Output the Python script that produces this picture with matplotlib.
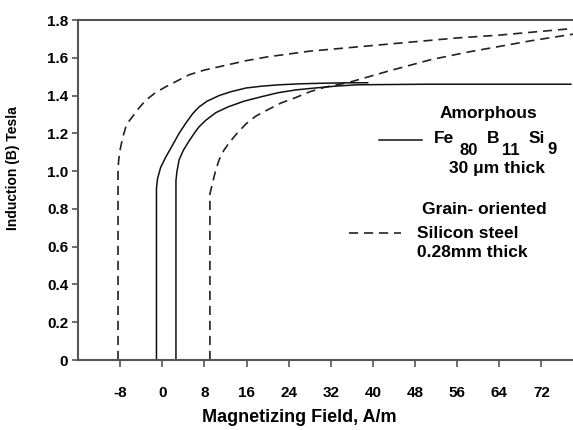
import matplotlib
matplotlib.use("Agg")
import matplotlib.pyplot as plt

plt.rcParams['font.family'] = ['Liberation Sans', 'DejaVu Sans']
plt.rcParams['font.weight'] = 'bold'

# grain-oriented silicon steel (dashed loop)
si_up_H = [-8.4, -8.4, -8.3, -8.1, -7.8, -7.5, -6.9, -6.3, -5.6, -4.4, -3.1, -1.3, 0.7, 3.0, 5.1, 8.0,
           12.0, 16.0, 20.0, 24.0, 28.0, 32.0, 40.0, 48.0, 56.0, 64.0, 72.0, 78.0]
si_up_B = [0.0, 1.0, 1.05, 1.1, 1.14, 1.18, 1.235, 1.265, 1.29, 1.335, 1.376, 1.415, 1.447, 1.48, 1.51, 1.535,
           1.56, 1.585, 1.605, 1.62, 1.635, 1.645, 1.665, 1.685, 1.705, 1.72, 1.74, 1.755]
si_dn_H = [9.05, 9.05, 9.5, 10.1, 10.8, 11.7, 12.7, 14.2, 15.9, 17.7, 19.7, 22.5, 25.4, 28.0, 31.0, 35.5,
           43.0, 51.0, 58.0, 64.0, 70.0, 78.0]
si_dn_B = [0.0, 0.88, 0.93, 1.0, 1.06, 1.11, 1.15, 1.2, 1.25, 1.29, 1.32, 1.36, 1.39, 1.42, 1.445, 1.47,
           1.53, 1.59, 1.63, 1.66, 1.69, 1.725]

# amorphous Fe80 B11 Si9 (solid loop)
am_up_H = [-1.1, -1.1, -0.9, -0.3, 0.7, 2.0, 3.2, 4.5, 5.8, 7.0, 8.5, 10.8, 13.0, 15.9, 19.0, 22.2,
           26.0, 30.0, 34.0, 39.0]
am_up_B = [0.0, 0.91, 0.96, 1.02, 1.076, 1.14, 1.2, 1.255, 1.305, 1.34, 1.37, 1.40, 1.42, 1.44, 1.45, 1.457,
           1.462, 1.465, 1.467, 1.468]
am_dn_H = [2.6, 2.6, 2.8, 3.2, 4.0, 5.1, 6.2, 7.0, 8.3, 10.2, 12.5, 15.5, 19.0, 22.0, 25.4, 29.0,
           33.0, 37.0, 50.0, 77.6]
am_dn_B = [0.0, 0.95, 1.0, 1.06, 1.11, 1.16, 1.205, 1.235, 1.27, 1.31, 1.34, 1.37, 1.395, 1.415, 1.43, 1.44,
           1.45, 1.457, 1.46, 1.46]

xticks = [-8, 0, 8, 16, 24, 32, 40, 48, 56, 64, 72]
yticks = [0, 0.2, 0.4, 0.6, 0.8, 1.0, 1.2, 1.4, 1.6, 1.8]

fig = plt.figure(figsize=(5.73, 4.3), dpi=100)
ax = fig.add_axes([78/573, 1-360/430, 495/573, 340/430])

dash = (0, (5.5, 3.5))
ax.plot(si_up_H, si_up_B, color='#222222', lw=1.2, ls=dash)
ax.plot(si_dn_H, si_dn_B, color='#222222', lw=1.2, ls=dash)
ax.plot(am_up_H, am_up_B, color='#111111', lw=1.1)
ax.plot(am_dn_H, am_dn_B, color='#111111', lw=1.1)

ax.set_xlim(-16, 78)
ax.set_ylim(0, 1.8)
ax.set_xticks(xticks)
ax.set_xticklabels([str(t) for t in xticks])
ax.set_yticks(yticks)
ax.set_yticklabels(['0' if t == 0 else '%.1f' % t for t in yticks])
ax.tick_params(axis='x', direction='out', length=5, width=1.2, color='#555555', pad=14, labelsize=11)
ax.tick_params(axis='y', direction='out', length=4, width=1.2, color='#555555', pad=3, labelsize=11)

for s in ['left', 'bottom', 'top']:
    ax.spines[s].set_color('#555555')
    ax.spines[s].set_linewidth(1.5)
ax.spines['right'].set_visible(False)

ax.set_xlabel('Magnetizing Field, A/m', fontsize=13, fontweight='bold')
ax.xaxis.set_label_coords(0.448, -0.145)
ax.set_ylabel('Induction (B) Tesla', fontsize=10, fontweight='bold')
ax.yaxis.set_label_coords(-0.117, 0.565)

# legend-like annotations
ax.text(62.0, 1.307, 'Amorphous', fontsize=12.5, ha='center', va='center')
ax.plot([41.2, 49.3], [1.164, 1.164], color='#111111', lw=1.1)
ax.text(51.6, 1.149, 'Fe', fontsize=12.5, va='baseline')
ax.text(56.4, 1.085, '80', fontsize=12, va='baseline')
ax.text(61.7, 1.149, 'B', fontsize=12.5, va='baseline')
ax.text(64.5, 1.085, '11', fontsize=12, va='baseline')
ax.text(69.6, 1.149, 'Si', fontsize=12.5, va='baseline')
ax.text(73.1, 1.090, '9', fontsize=12, va='baseline')
ax.text(63.6, 0.990, '30 \u03bcm thick', fontsize=12.5, ha='center', va='baseline')

ax.text(61.1, 0.799, 'Grain- oriented', fontsize=12.5, ha='center', va='center')
ax.plot([35.5, 45.4], [0.672, 0.672], color='#222222', lw=1.2, ls=dash)
ax.text(48.4, 0.646, 'Silicon steel', fontsize=12.5, va='baseline')
ax.text(48.4, 0.545, '0.28mm thick', fontsize=12.5, va='baseline')

fig.savefig('out.png', dpi=100)
